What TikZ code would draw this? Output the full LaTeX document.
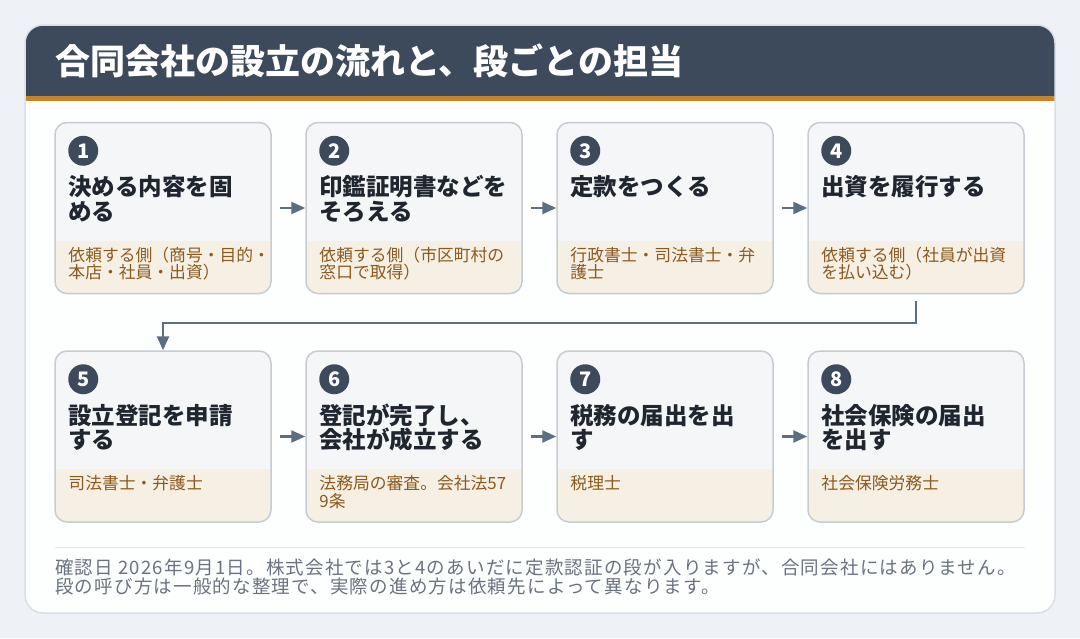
\documentclass[tikz,border=0pt]{standalone}
\usepackage{fontspec}
\setmainfont{Noto Sans CJK JP}
\newfontfamily\notefont[LetterSpace=6.5]{Noto Sans CJK JP}
\usetikzlibrary{arrows.meta,positioning}
\definecolor{pagebg}{HTML}{EEF1F5}
\definecolor{panelbg}{HTML}{FDFEFE}
\definecolor{panelline}{HTML}{D9DFE7}
\definecolor{hdr}{HTML}{3D4A5C}
\definecolor{accent}{HTML}{C9832C}
\definecolor{cardtop}{HTML}{F5F6F8}
\definecolor{cardline}{HTML}{C5CCD3}
\definecolor{band}{HTML}{F6EFE3}
\definecolor{ink}{HTML}{1F2630}
\definecolor{roletxt}{HTML}{8A5A1E}
\definecolor{arrowc}{HTML}{5C6F82}
\definecolor{notetxt}{HTML}{6B7280}
\definecolor{sepline}{HTML}{E1E5EA}
\tikzset{
  card/.style={rectangle, rounded corners=12pt, draw=cardline, line width=1.5pt,
    fill=cardtop, minimum width=216pt, minimum height=171pt, inner sep=0pt,
    path picture={\fill[band, sharp corners] ([yshift=53pt]path picture bounding box.south west)
      rectangle (path picture bounding box.south east);}},
  num/.style={circle, fill=hdr, minimum size=30pt, inner sep=0pt, text=white,
    font=\fontsize{20}{20}\selectfont\bfseries},
  % base of a multi-line node is the baseline of its last line
  head/.style={anchor=base west, align=left, inner sep=0pt, text=ink,
    font=\fontsize{23.5}{24.5}\selectfont\bfseries},
  role/.style={anchor=base west, align=left, inner sep=0pt, text=roletxt,
    font=\fontsize{16.8}{17.5}\selectfont},
  flow/.style={draw=arrowc, line width=2.5pt, -{Triangle[length=14pt, width=12pt]}},
}
\begin{document}
\begin{tikzpicture}[x=1pt,y=-1pt]
  % page and panel
  \fill[pagebg] (0,0) rectangle (1080,638);
  \useasboundingbox (0,0) rectangle (1080,638);
  \fill[panelbg, rounded corners=18pt] (25,25) rectangle (1055,613);
  \begin{scope}
    \clip[rounded corners=18pt] (25,25) rectangle (1055,613);
    \fill[hdr] (25,25) rectangle (1055,96);
    \fill[accent] (25,96) rectangle (1055,101);
  \end{scope}
  \draw[panelline, line width=1.5pt, rounded corners=18pt] (25,25) rectangle (1055,613);
  \node[anchor=base west, inner sep=0pt, text=white, font=\fontsize{35}{35}\selectfont\bfseries]
    (ttl) at (55,74) {合同会社の設立の流れと、段ごとの担当};

  % first row
  \node[card] (c1) at (163,208) {};
  \node[card] (c2) at (414,208) {};
  \node[card] (c3) at (665,208) {};
  \node[card] (c4) at (916,208) {};
  % second row
  \node[card] (c5) at (163,436.5) {};
  \node[card] (c6) at (414,436.5) {};
  \node[card] (c7) at (665,436.5) {};
  \node[card] (c8) at (916,436.5) {};

  \node[num] (n1) at ([shift={(29,29)}]c1.north west) {1};
  \node[head] (t1) at ([shift={(14,98.5)}]c1.north west) {決める内容を固\\める};
  \node[role] (r1) at ([shift={(14,157)}]c1.north west) {依頼する側（商号・目的・\\本店・社員・出資）};

  \node[num] (n2) at ([shift={(29,29)}]c2.north west) {2};
  \node[head] (t2) at ([shift={(14,98.5)}]c2.north west) {印鑑証明書などを\\そろえる};
  \node[role] (r2) at ([shift={(14,157)}]c2.north west) {依頼する側（市区町村の\\窓口で取得）};

  \node[num] (n3) at ([shift={(29,29)}]c3.north west) {3};
  \node[head] (t3) at ([shift={(14,74)}]c3.north west) {定款をつくる};
  \node[role] (r3) at ([shift={(14,157)}]c3.north west) {行政書士・司法書士・弁\\護士};

  \node[num] (n4) at ([shift={(29,29)}]c4.north west) {4};
  \node[head] (t4) at ([shift={(14,74)}]c4.north west) {出資を履行する};
  \node[role] (r4) at ([shift={(14,157)}]c4.north west) {依頼する側（社員が出資\\を払い込む）};

  \node[num] (n5) at ([shift={(29,29)}]c5.north west) {5};
  \node[head] (t5) at ([shift={(14,98.5)}]c5.north west) {設立登記を申請\\する};
  \node[role] (r5) at ([shift={(14,139.5)}]c5.north west) {司法書士・弁護士};

  \node[num] (n6) at ([shift={(29,29)}]c6.north west) {6};
  \node[head] (t6) at ([shift={(14,98.5)}]c6.north west) {登記が完了し、\\会社が成立する};
  \node[role] (r6) at ([shift={(14,157)}]c6.north west) {法務局の審査。会社法57\\9条};

  \node[num] (n7) at ([shift={(29,29)}]c7.north west) {7};
  \node[head] (t7) at ([shift={(14,98.5)}]c7.north west) {税務の届出を出\\す};
  \node[role] (r7) at ([shift={(14,139.5)}]c7.north west) {税理士};

  \node[num] (n8) at ([shift={(29,29)}]c8.north west) {8};
  \node[head] (t8) at ([shift={(14,98.5)}]c8.north west) {社会保険の届出\\を出す};
  \node[role] (r8) at ([shift={(14,139.5)}]c8.north west) {社会保険労務士};

  % connectors
  \draw[flow, shorten <=8pt] (c1.east) -- (c2.west);
  \draw[flow, shorten <=8pt] (c2.east) -- (c3.west);
  \draw[flow, shorten <=8pt] (c3.east) -- (c4.west);
  \draw[flow, shorten <=7pt] (c4.south) -- ++(0,28.5) -| (c5.north);
  \draw[flow, shorten <=8pt] (c5.east) -- (c6.west);
  \draw[flow, shorten <=8pt] (c6.east) -- (c7.west);
  \draw[flow, shorten <=8pt] (c7.east) -- (c8.west);

  % footer note
  \draw[sepline, line width=1pt] (55,547) -- (1025,547);
  \node[anchor=base west, align=left, inner sep=0pt, text=notetxt, font=\fontsize{18.5}{19}\notefont]
    (note) at (55,593) {確認日 2026年9月1日。株式会社では3と4のあいだに定款認証の段が入りますが、合同会社にはありません。\\段の呼び方は一般的な整理で、実際の進め方は依頼先によって異なります。};
\end{tikzpicture}
\end{document}
